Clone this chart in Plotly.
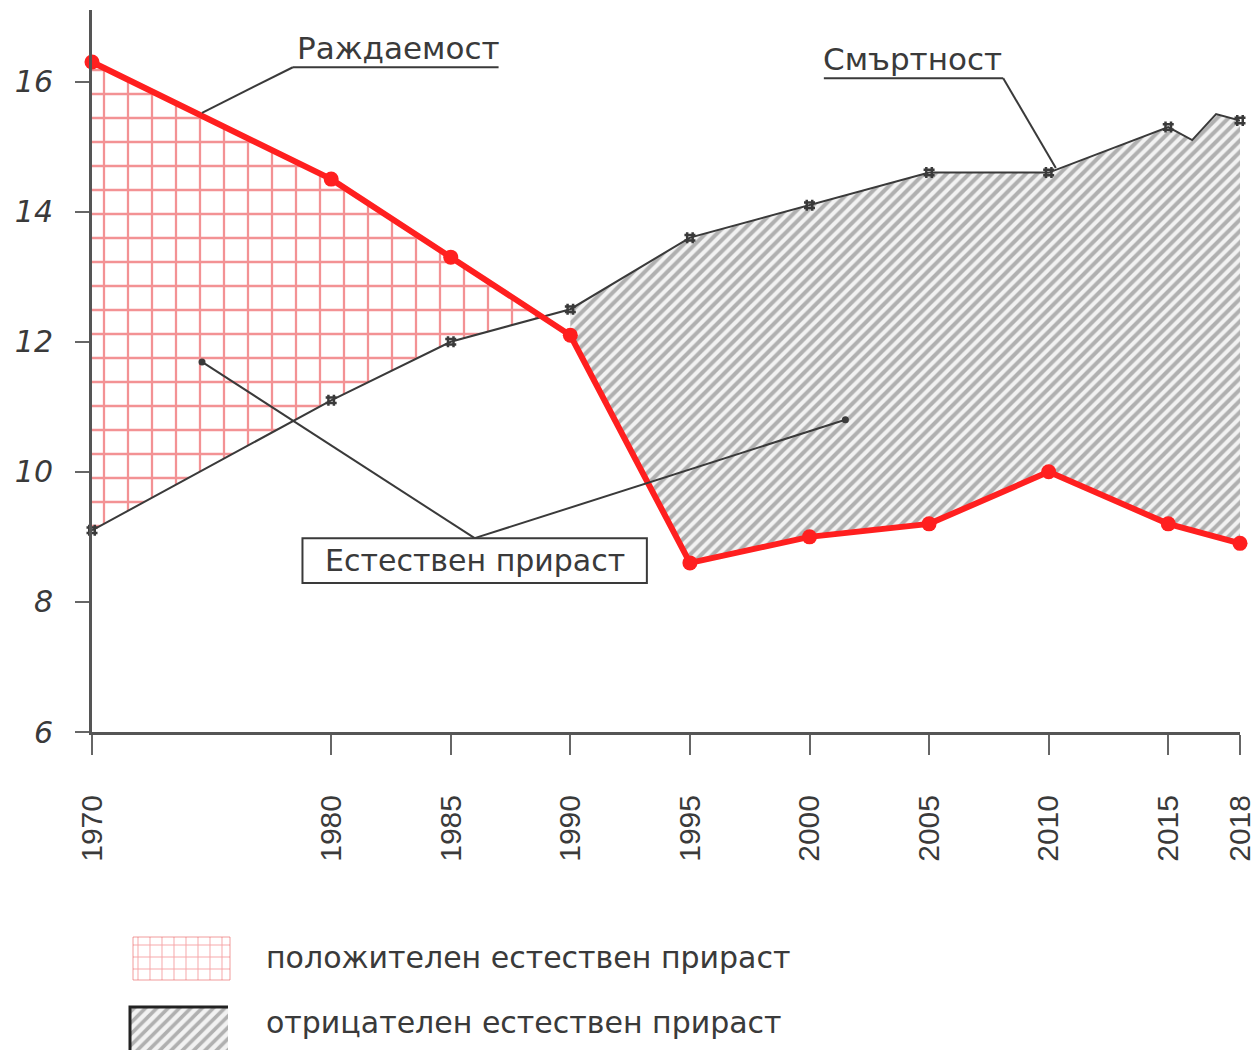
import plotly.graph_objects as go

# data (per 1000 population)
years = [1970, 1980, 1985, 1990, 1995, 2000, 2005, 2010, 2015, 2018]
births = [16.3, 14.5, 13.3, 12.1, 8.6, 9.0, 9.2, 10.0, 9.2, 8.9]
death_years = [1970, 1980, 1985, 1990, 1995, 2000, 2005, 2010, 2015, 2016, 2017, 2018]
deaths = [9.1, 11.1, 12.0, 12.5, 13.6, 14.1, 14.6, 14.6, 15.3, 15.1, 15.5, 15.4]
tick_labels = [str(y) for y in years]
y_ticks = [6, 8, 10, 12, 14, 16]

RED = '#ff1f1f'
DARK = '#3a3a3a'
FONT = 'Liberation Sans, Arial, sans-serif'
WIDE = 'DejaVu Sans, sans-serif'

W, H = 1258, 1050

fig = go.Figure()

# --- crossing point of the two curves (between 1985 and 1990)
d_at = dict(zip(death_years, deaths))
b_at = dict(zip(years, births))
x0, x1 = 1985, 1990
db = (b_at[x1] - b_at[x0]) / (x1 - x0)
dd = (d_at[x1] - d_at[x0]) / (x1 - x0)
t = (b_at[x0] - d_at[x0]) / (dd - db)
x_cross = x0 + t
y_cross = b_at[x0] + db * t

# positive natural growth area (red grid)
pos_x = [y for y in years if y <= x0] + [x_cross] + [y for y in death_years if y <= x0][::-1]
pos_y = [b_at[y] for y in years if y <= x0] + [y_cross] + [d_at[y] for y in death_years if y <= x0][::-1]
fig.add_trace(go.Scatter(x=pos_x, y=pos_y, fill='toself', mode='none',
                         fillcolor='rgba(255,255,255,0)',
                         fillpattern=dict(shape='+', fgcolor='#e8262a',
                                          bgcolor='white', size=24, solidity=0.18),
                         showlegend=False, hoverinfo='skip'))

# negative natural growth area (grey hatch)
neg_x = [y for y in death_years if y >= x1] + [y for y in years if y >= x1][::-1]
neg_y = [d_at[y] for y in death_years if y >= x1] + [b_at[y] for y in years if y >= x1][::-1]
fig.add_trace(go.Scatter(x=neg_x, y=neg_y, fill='toself', mode='none',
                         fillcolor='rgba(255,255,255,0)',
                         fillpattern=dict(shape='/', fgcolor='#6e6e6e',
                                          bgcolor='#f2f2f2', size=8, solidity=0.5),
                         showlegend=False, hoverinfo='skip'))

# death rate line
fig.add_trace(go.Scatter(x=death_years, y=deaths, mode='lines',
                         line=dict(color=DARK, width=2),
                         showlegend=False, cliponaxis=False))
fig.add_trace(go.Scatter(x=years, y=[d_at[y] for y in years], mode='markers',
                         marker=dict(symbol='hash', size=11, color=DARK,
                                     line=dict(color=DARK, width=2.5)),
                         showlegend=False, cliponaxis=False))

# birth rate line
fig.add_trace(go.Scatter(x=years, y=births, mode='lines+markers',
                         line=dict(color=RED, width=6),
                         marker=dict(color=RED, size=15),
                         showlegend=False, cliponaxis=False))

# --- callouts
shapes = []
annotations = []
line_style = dict(color=DARK, width=2)

# Раждаемост
annotations.append(dict(x=1982.8, y=16.52, text='Раждаемост', showarrow=False,
                        font=dict(size=31, color=DARK, family=WIDE)))
shapes.append(dict(type='line', x0=1978.4, y0=16.22, x1=1987.0, y1=16.22, line=line_style))
shapes.append(dict(type='line', x0=1978.4, y0=16.22, x1=1974.6, y1=15.52, line=line_style))

# Смъртност
annotations.append(dict(x=2004.3, y=16.34, text='Смъртност', showarrow=False,
                        font=dict(size=31, color=DARK, family=WIDE)))
shapes.append(dict(type='line', x0=2000.6, y0=16.05, x1=2008.1, y1=16.05, line=line_style))
shapes.append(dict(type='line', x0=2008.1, y0=16.05, x1=2010.3, y1=14.67, line=line_style))

# Естествен прираст box
shapes.append(dict(type='rect', x0=1978.8, y0=8.29, x1=1993.2, y1=8.98,
                   line=dict(color=DARK, width=2), fillcolor='white'))
annotations.append(dict(x=1986.0, y=8.64, text='Естествен прираст', showarrow=False,
                        font=dict(size=30, color=DARK, family=WIDE)))
shapes.append(dict(type='line', x0=1986.0, y0=8.98, x1=1974.6, y1=11.69, line=line_style))
shapes.append(dict(type='line', x0=1986.0, y0=8.98, x1=2001.5, y1=10.8, line=line_style))
fig.add_trace(go.Scatter(x=[1974.6, 2001.5], y=[11.69, 10.8], mode='markers',
                         marker=dict(color=DARK, size=7),
                         showlegend=False, hoverinfo='skip'))

# --- legend drawn on a helper axis (pixel units)
leg_items = [
    dict(x0=133, x1=230, y0=202, y1=245,
         pattern=dict(shape='+', fgcolor='rgba(232,38,42,0.8)', bgcolor='white', size=12, solidity=0.16),
         border='rgba(232,90,90,0.6)',
         label='положителен естествен прираст', ty=957),
    dict(x0=130, x1=228, y0=272, y1=315,
         pattern=dict(shape='/', fgcolor='#6e6e6e', bgcolor='#f2f2f2', size=8, solidity=0.45),
         border=None,
         label='отрицателен естествен прираст', ty=1022),
]
for it in leg_items:
    fig.add_trace(go.Scatter(x=[it['x0'], it['x1'], it['x1'], it['x0'], it['x0']],
                             y=[it['y0'], it['y0'], it['y1'], it['y1'], it['y0']],
                             xaxis='x2', yaxis='y2', fill='toself', mode='lines',
                             line=dict(color=it['border'] or 'rgba(0,0,0,0)', width=1),
                             fillcolor='rgba(255,255,255,0)', fillpattern=it['pattern'],
                             showlegend=False, hoverinfo='skip'))
    annotations.append(dict(xref='paper', yref='paper', x=264 / W, y=1 - it['ty'] / H,
                            xanchor='left', yanchor='middle', text=it['label'],
                            showarrow=False, font=dict(size=30, color=DARK, family=WIDE)))
# dark edges of the grey swatch
fig.add_trace(go.Scatter(x=[130, 130, 228], y=[315, 272, 272], xaxis='x2', yaxis='y2',
                         mode='lines', line=dict(color='#222', width=3),
                         showlegend=False, hoverinfo='skip'))

fig.update_layout(
    width=W, height=H,
    margin=dict(l=0, r=0, t=0, b=0),
    paper_bgcolor='white', plot_bgcolor='white',
    font=dict(family=FONT, color=DARK),
    shapes=shapes, annotations=annotations,
    showlegend=False,
    xaxis=dict(domain=[92 / W, 1240 / W], range=[1970, 2018], automargin=False,
               tickvals=years, ticktext=tick_labels, tickangle=-90,
               tickfont=dict(size=30, color=DARK, family=FONT),
               ticks='outside', ticklen=20, tickwidth=2, tickcolor='#666',
               ticklabelstandoff=28, ticklabeloverflow='allow',
               showline=True, linecolor='#555', linewidth=3,
               showgrid=False, zeroline=False),
    yaxis=dict(domain=[(H - 732) / H, (H - 10) / H], range=[6, 17.1], automargin=False,
               tickvals=y_ticks,
               tickfont=dict(size=30, color=DARK, family=WIDE, style='italic'),
               ticks='outside', ticklen=14, tickwidth=2, tickcolor='#666',
               ticklabelstandoff=16,
               showline=True, linecolor='#555', linewidth=3,
               showgrid=False, zeroline=False),
    xaxis2=dict(domain=[0, 1], range=[0, W], visible=False, anchor='y2', automargin=False),
    yaxis2=dict(domain=[0, 315 / H], range=[315, 0], visible=False, anchor='x2', automargin=False),
)

# drop the default page margin so the figure fills the window exactly
fig.write_html("out.html", config={'displayModeBar': False},
               post_script="document.body.style.margin='0';")
